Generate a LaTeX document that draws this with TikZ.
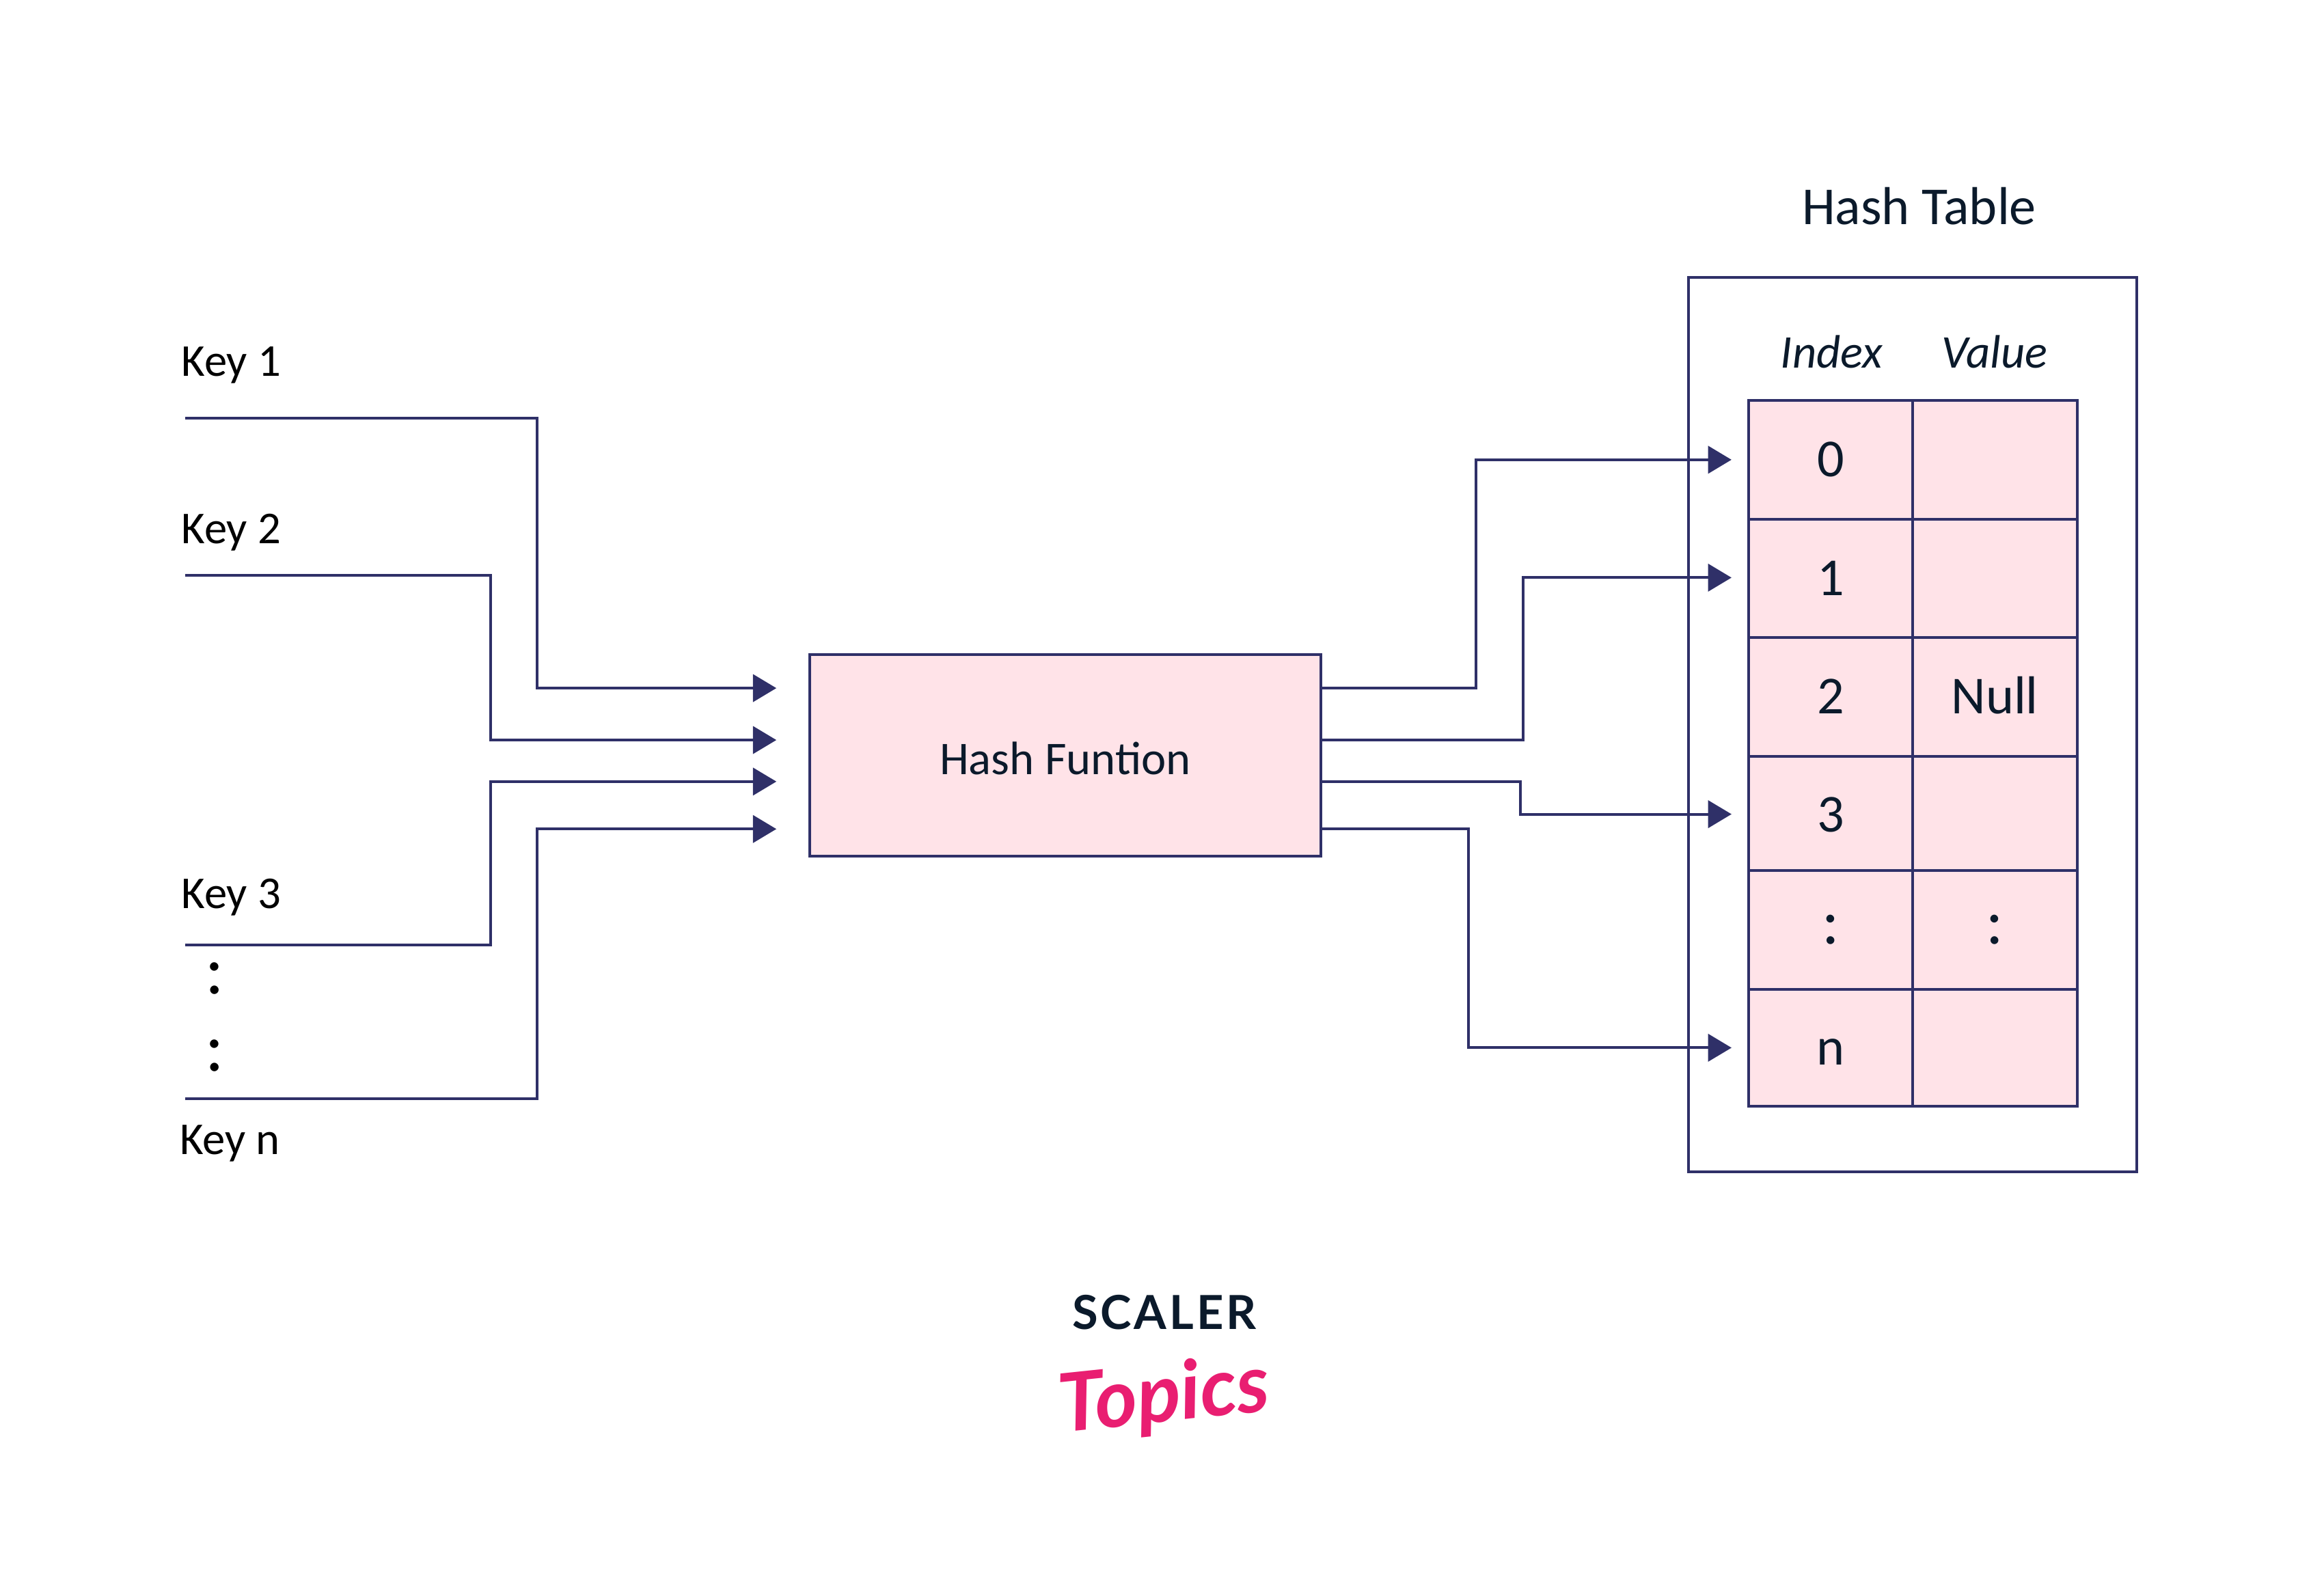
\documentclass[tikz,border=0pt]{standalone}
\usepackage{fontspec}
\setmainfont{Carlito}
\newfontfamily\logofont{Lato}
\usetikzlibrary{arrows.meta}
\definecolor{linecol}{HTML}{2F3068}
\definecolor{fillcol}{HTML}{FFE3E8}
\definecolor{inkcol}{HTML}{0B1A2B}
\definecolor{pinkcol}{HTML}{E91E71}
\tikzset{
  link/.style={draw=linecol, line width=1.05pt},
  arrowlink/.style={link, -{Triangle[length=9pt,width=10.5pt]}},
  cell/.style={draw=linecol, line width=1.05pt, fill=fillcol, text=inkcol, minimum width=22.2mm, minimum height=16mm, inner sep=0pt, text height=13pt, text depth=0pt, font=\fontsize{20.5}{24}\selectfont},
  dotcell/.style={cell, text height=11pt, font=\fontsize{25}{29}\selectfont},
  keylabel/.style={anchor=west, inner sep=0pt, text=black, font=\fontsize{17.5}{20}\selectfont},
  keydots/.style={inner sep=0pt, text=black, font=\fontsize{27}{31}\selectfont},
  headlabel/.style={inner sep=0pt, text=inkcol, font=\fontsize{18}{21}\selectfont\itshape}
}
\begin{document}
\begin{tikzpicture}[x=0.2mm, y=-0.2mm]
\useasboundingbox (0,0) rectangle (1567,1063);
% table frame
\node [draw=linecol, line width=1.05pt, minimum width=60.4mm, minimum height=120.6mm] (tableframe) at (1289.5,488.5) {};
\node [inner sep=0pt, text=inkcol, font=\fontsize{20.5}{24}\selectfont] (tabletitle) at (1294,139) {Hash Table};
\node [headlabel] (indexhead) at (1235,237) {Index};
\node [headlabel] (valuehead) at (1345,237) {Value};
% table cells
\node [cell] (i0) at (1234.5,310) {0};
\node [cell] (v0) at (1345,310) {};
\node [cell] (i1) at (1234.5,390) {1};
\node [cell] (v1) at (1345,390) {};
\node [cell] (i2) at (1234.5,470) {2};
\node [cell] (v2) at (1345,470) {Null};
\node [cell, minimum height=15.4mm, text height=14pt] (i3) at (1234.5,548.5) {3};
\node [cell, minimum height=15.4mm] (v3) at (1345,548.5) {};
\node [dotcell] (i4) at (1234.5,627) {:};
\node [dotcell] (v4) at (1345,627) {:};
\node [cell, minimum height=15.8mm] (in) at (1234.5,706.5) {n};
\node [cell, minimum height=15.8mm] (vn) at (1345,706.5) {};
% hash function
\node [draw=linecol, line width=1.05pt, fill=fillcol, text=inkcol, minimum width=68.9mm, minimum height=27.2mm, text height=14.6pt, text depth=0pt, font=\fontsize{18}{21}\selectfont] (hash) at (718.3,509.5) {Hash Funtion};
% keys
\node [keylabel] (key1) at (122,246) {Key 1};
\node [keylabel] (key2) at (122,359) {Key 2};
\node [keylabel] (key3) at (122,605) {Key 3};
\node [keylabel] (keyn) at (121,771) {Key n};
\node [keydots] (dots1) at (145,660) {:};
\node [keydots] (dots2) at (145,712) {:};
% line ends
\coordinate (k1) at (125,282);
\coordinate (k2) at (125,388);
\coordinate (k3) at (125,637);
\coordinate (kn) at (125,741);
\coordinate (a1) at (523.5,464);
\coordinate (a2) at (523.5,499);
\coordinate (a3) at (523.5,527);
\coordinate (a4) at (523.5,559);
\coordinate (b1) at (891,464);
\coordinate (b2) at (891,499);
\coordinate (b3) at (891,527);
\coordinate (b4) at (891,559);
\coordinate (c0) at (1167.5,310);
\coordinate (c1) at (1167.5,389.5);
\coordinate (c3) at (1167.5,549);
\coordinate (cn) at (1167.5,706.5);
% into the hash function
\draw [arrowlink] (k1) -- ++(237,0) |- (a1);
\draw [arrowlink] (k2) -- ++(206,0) |- (a2);
\draw [arrowlink] (k3) -- ++(206,0) |- (a3);
\draw [arrowlink] (kn) -- ++(237,0) |- (a4);
% out to the table
\draw [arrowlink] (b1) -- ++(104,0) |- (c0);
\draw [arrowlink] (b2) -- ++(136,0) |- (c1);
\draw [arrowlink] (b3) -- ++(134,0) |- (c3);
\draw [arrowlink] (b4) -- ++(99,0) |- (cn);
% logo
\node [inner sep=0pt, text=inkcol, font=\logofont\fontsize{18}{21}\selectfont\bfseries] (logotop) at (785,885) {S\kern1pt C\kern1pt A\kern1pt L\kern1pt E\kern1pt R};
\node [inner sep=0pt, text=pinkcol, rotate=6, font=\logofont\fontsize{31}{35}\selectfont\itshape\bfseries] (logobottom) at (785,943) {Topics};
\end{tikzpicture}
\end{document}
